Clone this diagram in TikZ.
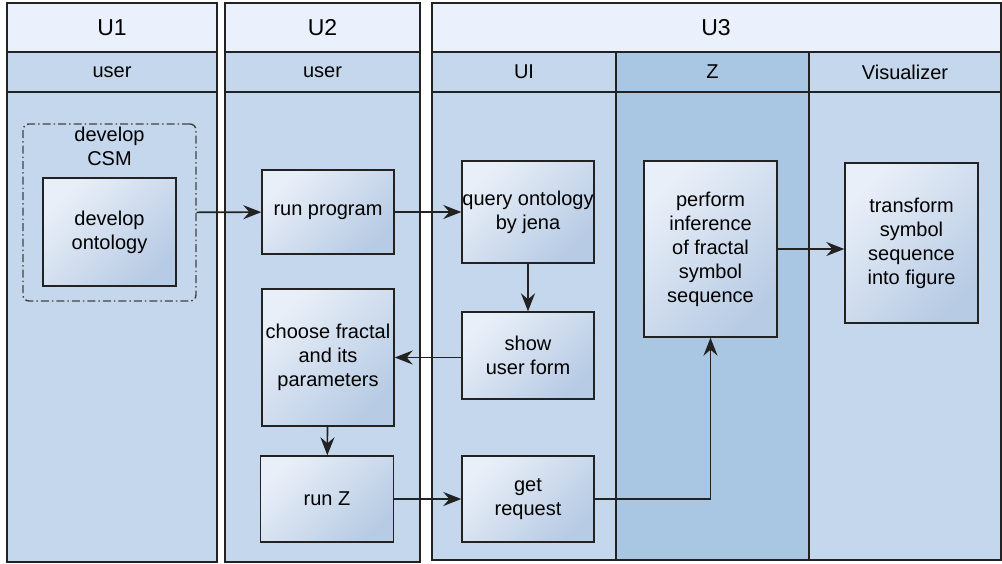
\documentclass[tikz,border=0pt]{standalone}
\usepackage{fontspec}
\setmainfont{Liberation Sans}
\usetikzlibrary{arrows.meta}

\definecolor{headfill}{HTML}{EAF1FC}
\definecolor{lanefill}{HTML}{C4D7EC}
\definecolor{zfill}{HTML}{A9C7E2}
\definecolor{boxlight}{HTML}{E9EFF8}
\definecolor{boxdark}{HTML}{B7CBE4}
\definecolor{edge}{HTML}{222222}

\tikzset{
  pool/.style={draw=edge, line width=1.6pt},
  task/.style={draw=edge, line width=1.4pt, left color=boxlight, right color=boxdark,
    shading angle=45, align=center, inner sep=0pt, font=\fontsize{20}{24}\selectfont},
  group/.style={draw=edge!85, line width=1.4pt, rounded corners=6pt,
    dash pattern=on 8pt off 3pt on 1.5pt off 3pt},
  flow/.style={draw=edge, line width=1.6pt, -{Stealth[length=18pt,width=14pt,inset=6pt]}},
  title/.style={font=\fontsize{23}{26}\selectfont},
  lanetitle/.style={font=\fontsize{20}{22}\selectfont},
  boxtext/.style={align=center, font=\fontsize{20}{24}\selectfont}
}

\begin{document}
\begin{tikzpicture}[x=1pt, y=-1pt]
  \useasboundingbox (0,0) rectangle (1002,563);

  % pools and lanes
  \draw[pool, fill=headfill] (7,3) rectangle (217,52);
  \draw[pool, fill=lanefill] (7,52) rectangle (217,92);
  \draw[pool, fill=lanefill] (7,92) rectangle (217,562);
  \draw[pool, fill=headfill] (225,3) rectangle (420,52);
  \draw[pool, fill=lanefill] (225,52) rectangle (420,92);
  \draw[pool, fill=lanefill] (225,92) rectangle (420,562);
  \draw[pool, fill=headfill] (432,3) rectangle (1001,52);
  \draw[pool, fill=lanefill] (432,52) rectangle (616,92);
  \draw[pool, fill=zfill] (616,52) rectangle (809,92);
  \draw[pool, fill=lanefill] (809,52) rectangle (1001,92);
  \draw[pool, fill=lanefill] (432,92) rectangle (616,560);
  \draw[pool, fill=zfill] (616,92) rectangle (809,560);
  \draw[pool, fill=lanefill] (809,92) rectangle (1001,560);

  \node[title] (u1) at (112,28) {U1};
  \node[title] (u2) at (322.5,28) {U2};
  \node[title] (u3) at (716,28) {U3};
  \node[lanetitle] (u1user) at (112,72) {user};
  \node[lanetitle] (u2user) at (322.5,72) {user};
  \node[lanetitle] (ui) at (524,72) {UI};
  \node[lanetitle] (zlane) at (712.5,72) {Z};
  \node[lanetitle] (vis) at (905,72) {Visualizer};

  % activities
  \node[group, minimum width=173pt, minimum height=177pt] (csm) at (109.5,212.5) {};
  \node[boxtext, anchor=north] (csmlabel) at (csm.north) {develop\\CSM};
  \node[task, minimum width=133pt, minimum height=108pt] (devont) at (109.5,232) {develop\\ontology};
  \node[task, minimum width=132pt, minimum height=84pt] (runprog) at (328,212) {run program};
  \node[task, minimum width=132pt, minimum height=137pt] (choose) at (328,357.5) {choose fractal\\and its\\parameters};
  \node[task, minimum width=133pt, minimum height=86pt] (runz) at (327,499) {run Z};
  \node[task, minimum width=132pt, minimum height=102pt] (query) at (528,212) {query ontology\\by jena};
  \node[task, minimum width=132pt, minimum height=87pt] (show) at (528,355.5) {show\\user form};
  \node[task, minimum width=132pt, minimum height=86pt] (get) at (528,499) {get\\request};
  \node[task, minimum width=133pt, minimum height=176pt] (perform) at (710.5,249) {perform\\inference\\of fractal\\symbol\\sequence};
  \node[task, minimum width=133pt, minimum height=160pt] (transform) at (911.5,243) {transform\\symbol\\sequence\\into figure};

  % flows
  \draw[flow] (csm) -- (runprog);
  \draw[flow] (runprog) -- (query);
  \draw[flow] (query) -- (show);
  \draw[flow] (show.west |- choose) -- (choose);
  \draw[flow] (choose) -- (runz);
  \draw[flow] (runz) -- (get);
  \draw[flow] (get.east) -| (perform.south);
  \draw[flow] (perform.east) -- (perform.east -| transform.west);
\end{tikzpicture}
\end{document}
